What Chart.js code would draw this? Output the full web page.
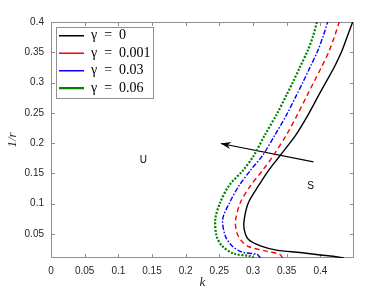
<!DOCTYPE html>
<html><head><meta charset="utf-8">
<script src="https://cdn.jsdelivr.net/npm/chart.js@4"></script>
<style>html,body{margin:0;padding:0;background:#fff}</style>
</head><body>
<canvas id="c" width="392" height="294"></canvas>
<script>
// ---- data ----
const seriesLabels = ['γ\u2002=\u20020', 'γ\u2002=\u20020.001', 'γ\u2002=\u20020.03', 'γ\u2002=\u20020.06'];
const k0 = [0.435, 0.419, 0.400, 0.370, 0.335, 0.311, 0.293, 0.287, 0.287, 0.293, 0.308, 0.324, 0.340, 0.364, 0.382, 0.398, 0.408, 0.421, 0.432, 0.440, 0.448];
const r0 = [0.010, 0.013, 0.015, 0.019, 0.023, 0.030, 0.041, 0.057, 0.074, 0.101, 0.129, 0.156, 0.179, 0.214, 0.247, 0.280, 0.300, 0.326, 0.352, 0.376, 0.400];
const k1 = [0.344, 0.340, 0.321, 0.293, 0.283, 0.276, 0.274, 0.281, 0.296, 0.315, 0.330, 0.350, 0.366, 0.381, 0.390, 0.402, 0.413, 0.421, 0.428];
const r1 = [0.010, 0.016, 0.021, 0.029, 0.038, 0.052, 0.071, 0.101, 0.129, 0.156, 0.179, 0.214, 0.247, 0.280, 0.300, 0.326, 0.352, 0.376, 0.400];
const k2 = [0.311, 0.306, 0.283, 0.269, 0.259, 0.255, 0.265, 0.279, 0.297, 0.314, 0.333, 0.350, 0.365, 0.374, 0.385, 0.396, 0.404, 0.411];
const r2 = [0.010, 0.016, 0.020, 0.030, 0.046, 0.074, 0.101, 0.129, 0.156, 0.179, 0.214, 0.247, 0.280, 0.300, 0.326, 0.352, 0.376, 0.400];
const k3 = [0.301, 0.296, 0.271, 0.254, 0.246, 0.244, 0.251, 0.264, 0.286, 0.301, 0.318, 0.335, 0.350, 0.359, 0.370, 0.381, 0.389, 0.395];
const r3 = [0.010, 0.013, 0.0175, 0.030, 0.046, 0.074, 0.101, 0.129, 0.156, 0.179, 0.214, 0.247, 0.280, 0.300, 0.326, 0.352, 0.376, 0.400];
const xTicks = [0, 0.05, 0.1, 0.15, 0.2, 0.25, 0.3, 0.35, 0.4];
const yTicks = [0.05, 0.1, 0.15, 0.2, 0.25, 0.3, 0.35, 0.4];
const arrowK = [0.3897, 0.2522];
const arrowR = [0.1689, 0.1991];
const regionText = ['U', 'S'];
const regionK = [0.137, 0.3856];
const regionR = [0.1718, 0.1281];

const AXIS = '#8f8f8f';
const TXT = '#262626';
const pts = (ks, rs) => ks.map((k, i) => ({x: k, y: rs[i]}));

const styles = [
  {borderColor: '#000000', borderWidth: 1.4, borderDash: []},
  {borderColor: '#ff0000', borderWidth: 1.4, borderDash: [5, 3.5]},
  {borderColor: '#0000ff', borderWidth: 1.4, borderDash: [5, 1.8, 1.5, 1.8]},
  {borderColor: '#008000', borderWidth: 2.2, borderDash: [2, 1.6]}
];
const curveData = [pts(k0, r0), pts(k1, r1), pts(k2, r2), pts(k3, r3)];

const datasets = curveData.map((d, i) => Object.assign({
  label: seriesLabels[i], data: d, showLine: true, tension: 0.3,
  pointRadius: 0, pointStyle: 'line', backgroundColor: styles[i].borderColor, fill: false
}, styles[i]));
datasets.push({label: 'arrow', data: pts(arrowK, arrowR), showLine: true, tension: 0,
  pointRadius: 0, borderColor: '#000', borderWidth: 1.1, backgroundColor: '#000'});

const LEG_FS = 14, LEG_W = 25;

const decor = {
  id: 'decor',
  afterLayout(chart) {
    const lg = chart.legend, ca = chart.chartArea;
    const w = lg.width, h = lg.height;
    lg.left = ca.left + 4.5; lg.top = ca.top + 3.2;
    lg.right = lg.left + w; lg.bottom = lg.top + h;
  },
  beforeDatasetsDraw(chart) {
    const {ctx, chartArea: ca, scales: {x, y}} = chart;
    ctx.save();
    ctx.strokeStyle = AXIS; ctx.lineWidth = 1;
    const L = Math.round(ca.left) + 0.5, R = Math.round(ca.right) - 0.5;
    const T = Math.round(ca.top) + 0.5, B = Math.round(ca.bottom) - 0.5;
    ctx.beginPath();
    ctx.rect(L, T, R - L, B - T);
    const tl = 3.5;
    xTicks.forEach(v => {
      const px = Math.round(x.getPixelForValue(v)) + 0.5;
      ctx.moveTo(px, B); ctx.lineTo(px, B - tl);
      ctx.moveTo(px, T); ctx.lineTo(px, T + tl);
    });
    yTicks.forEach(v => {
      const py = Math.round(y.getPixelForValue(v)) + 0.5;
      ctx.moveTo(L, py); ctx.lineTo(L + tl, py);
      ctx.moveTo(R, py); ctx.lineTo(R - tl, py);
    });
    ctx.stroke();
    ctx.restore();
  },
  afterDatasetsDraw(chart) {
    const {ctx, scales: {x, y}} = chart;
    ctx.save();
    const x1 = x.getPixelForValue(arrowK[0]), y1 = y.getPixelForValue(arrowR[0]);
    const x2 = x.getPixelForValue(arrowK[1]), y2 = y.getPixelForValue(arrowR[1]);
    const a = Math.atan2(y2 - y1, x2 - x1);
    const len = 10, half = 3.6, notch = 7;
    const bx = x2 - len * Math.cos(a), by = y2 - len * Math.sin(a);
    const nx = x2 - notch * Math.cos(a), ny = y2 - notch * Math.sin(a);
    ctx.fillStyle = '#000';
    ctx.beginPath();
    ctx.moveTo(x2, y2);
    ctx.lineTo(bx + half * Math.sin(a), by - half * Math.cos(a));
    ctx.lineTo(nx, ny);
    ctx.lineTo(bx - half * Math.sin(a), by + half * Math.cos(a));
    ctx.closePath();
    ctx.fill();
    ctx.font = '10px "Liberation Sans", Arial, sans-serif';
    ctx.fillStyle = '#000';
    ctx.textAlign = 'center'; ctx.textBaseline = 'middle';
    regionText.forEach((t, i) => {
      ctx.fillText(t, x.getPixelForValue(regionK[i]), y.getPixelForValue(regionR[i]));
    });
    ctx.restore();
  },
  afterDraw(chart) {
    const {ctx} = chart;
    const lg = chart.legend;
    const pad = lg.options.labels.padding;
    const fs = LEG_FS;
    ctx.save();
    ctx.font = fs + 'px "Liberation Serif", "Times New Roman", serif';
    let tw = 0;
    seriesLabels.forEach(s => { tw = Math.max(tw, ctx.measureText(s).width); });
    const x0 = lg.left + pad, y0 = lg.top + pad;
    const left = Math.round(x0 - 3) + 0.5;
    const top = Math.round(y0 - 1.5) + 0.5;
    const right = Math.round(x0 + LEG_W + fs / 2 + tw + 2) + 0.5;
    const bottom = Math.round(y0 + 3 * (fs + pad) + fs + 2.7) + 0.5;
    ctx.strokeStyle = AXIS; ctx.lineWidth = 1;
    ctx.strokeRect(left, top, right - left, bottom - top);
    ctx.restore();
  }
};

new Chart(document.getElementById('c'), {
  type: 'scatter',
  data: {datasets},
  plugins: [decor],
  options: {
    responsive: false, animation: false, devicePixelRatio: 1,
    layout: {padding: {left: 0, top: 22, right: 38, bottom: 0}},
    scales: {
      x: {
        type: 'linear', min: 0, max: 0.45,
        afterBuildTicks: s => { s.ticks = xTicks.map(v => ({value: v})); },
        afterFit: s => { s.height = 36; },
        grid: {display: false, drawTicks: false}, border: {display: false},
        ticks: {padding: 7.5, color: TXT, autoSkip: false, maxRotation: 0,
          font: {family: '"Liberation Sans", Arial, sans-serif', size: 10},
          callback: v => String(Math.round(v * 100) / 100)},
        title: {display: true, text: 'k', color: TXT,
          font: {family: '"Liberation Serif", serif', style: 'italic', size: 13},
          padding: {top: 0, bottom: 4}}
      },
      y: {
        type: 'linear', min: 0.01, max: 0.4,
        afterBuildTicks: s => { s.ticks = yTicks.map(v => ({value: v})); },
        afterFit: s => { s.width = 51; },
        grid: {display: false, drawTicks: false}, border: {display: false},
        ticks: {padding: 7, color: TXT, autoSkip: false,
          font: {family: '"Liberation Sans", Arial, sans-serif', size: 10},
          callback: v => String(Math.round(v * 100) / 100)},
        title: {display: true, text: '1/r', color: TXT,
          font: {family: '"Liberation Serif", serif', style: 'italic', size: 13},
          padding: {top: 5, bottom: 0}}
      }
    },
    plugins: {
      tooltip: {enabled: false},
      legend: {
        position: 'chartArea', align: 'start',
        labels: {usePointStyle: true, pointStyleWidth: LEG_W, padding: 3.5, color: '#000',
          font: {family: '"Liberation Serif", "Times New Roman", serif', size: LEG_FS},
          filter: item => item.datasetIndex < 4}
      }
    }
  }
});
</script>
</body></html>
